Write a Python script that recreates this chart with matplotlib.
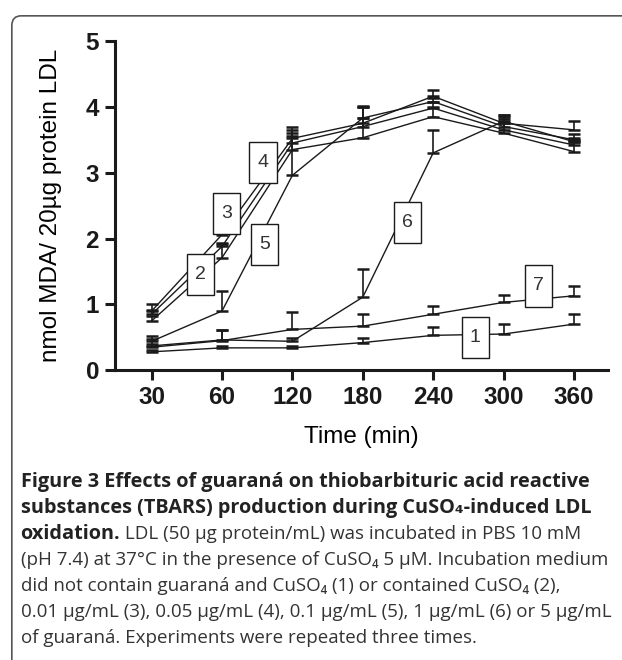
import numpy as np
import matplotlib.pyplot as plt
from matplotlib.patches import FancyBboxPatch
from matplotlib.path import Path

# data (nmol MDA / 20 ug protein LDL)
times = ['30', '60', '120', '180', '240', '300', '360']
s1 = [0.28, 0.34, 0.34, 0.42, 0.53, 0.55, 0.70]
e1 = [0.03, 0.03, 0.03, 0.07, 0.13, 0.15, 0.15]
s2 = [0.75, 1.71, 3.35, 3.53, 3.85, 3.60, 3.32]
e2 = [0.08, 0.20, 0.25, 0.30, 0.15, 0.15, 0.15]
s3 = [0.85, 1.88, 3.45, 3.70, 3.98, 3.65, 3.42]
e3 = [0.07, 0.05, 0.20, 0.30, 0.10, 0.22, 0.08]
s4 = [0.90, 2.06, 3.52, 3.75, 4.16, 3.75, 3.65]
e4 = [0.10, 0.05, 0.18, 0.25, 0.10, 0.10, 0.14]
s5 = [0.44, 0.90, 2.96, 3.83, 4.08, 3.70, 3.50]
e5 = [0.08, 0.31, 0.60, 0.18, 0.05, 0.12, 0.08]
s6 = [0.37, 0.46, 0.44, 1.11, 3.30, 3.78, 3.47]
e6 = [0.10, 0.15, 0.05, 0.42, 0.35, 0.10, 0.05]
s7 = [0.35, 0.45, 0.62, 0.67, 0.85, 1.03, 1.13]
e7 = [0.05, 0.16, 0.27, 0.18, 0.12, 0.12, 0.15]

series = [s1, s2, s3, s4, s5, s6, s7]
errs = [e1, e2, e3, e4, e5, e6, e7]

# label boxes: (label, x position, y value)
labels = ['1', '2', '3', '4', '5', '6', '7']
label_x = [4.60, 0.69, 1.06, 1.58, 1.60, 3.63, 5.50]
label_y = [0.50, 1.45, 2.38, 3.16, 1.91, 2.24, 1.28]


def tallbox(x0, y0, width, height, mutation_size):
    # narrow, tall rectangle round the digit
    padx = 0.42 * mutation_size
    pady = 0.62 * mutation_size
    x0, y0 = x0 - padx, y0 - pady
    x1, y1 = x0 + width + 2 * padx, y0 + height + 2 * pady
    return Path([(x0, y0), (x1, y0), (x1, y1), (x0, y1), (x0, y0)], closed=True)


fig = plt.figure(figsize=(6.22, 6.60), dpi=100)
ax = fig.add_axes([0.185, 0.439, 0.792, 0.499])

x = np.arange(len(times))
for s, e in zip(series, errs):
    ax.errorbar(x, s, yerr=[np.zeros(len(e)), e], color='#1a1a1a', lw=1.0,
                elinewidth=1.2, capsize=4, capthick=1.8)

for lab, lx, ly in zip(labels, label_x, label_y):
    ax.text(lx, ly, lab, ha='center', va='center', fontsize=14,
            family='Liberation Sans', color='#333333', zorder=5,
            bbox=dict(boxstyle=tallbox, fc='white', ec='#1a1a1a', lw=1.0))

ax.set_xlim(-0.52, 6.48)
ax.set_ylim(0, 5)
ax.set_xticks(x)
ax.set_xticklabels(times)
ax.set_yticks(range(6))
for sp in ['top', 'right']:
    ax.spines[sp].set_visible(False)
for sp in ['left', 'bottom']:
    ax.spines[sp].set_linewidth(2.2)
    ax.spines[sp].set_color('#1a1a1a')
ax.tick_params(width=2.2, length=7, color='#1a1a1a', labelsize=17.5, pad=4.5)
for t in ax.get_xticklabels() + ax.get_yticklabels():
    t.set_fontweight('bold')
    t.set_family('Liberation Sans')
    t.set_color('#1a1a1a')
ax.set_ylabel('nmol MDA/ 20µg protein LDL', fontsize=17.5, family='Liberation Sans', labelpad=17)
ax.set_xlabel('Time (min)', fontsize=17.5, family='Liberation Sans', labelpad=12)

# outer rounded frame
frame = FancyBboxPatch((0.019, -0.05), 1.2, 1.026, boxstyle='round,pad=0,rounding_size=0.015',
                       transform=fig.transFigure, fc='none', ec='#555555', lw=1.2)
fig.patches.append(frame)

fam = ['Open Sans', 'DejaVu Sans']
cx = 0.033
fig.text(cx, 1 - 482 / 660, 'Figure 3 Effects of guaraná on thiobarbituric acid reactive',
         fontsize=14.3, fontweight='bold', family=fam, va='center', color='#222222')
fig.text(cx, 1 - 508 / 660, 'substances (TBARS) production during CuSO₄-induced LDL',
         fontsize=14.3, fontweight='bold', family=fam, va='center', color='#222222')
t1 = fig.text(cx, 1 - 534 / 660, 'oxidation.', fontsize=14.3, fontweight='bold',
              family=fam, va='center', color='#222222')
ax.annotate(' LDL (50 µg protein/mL) was incubated in PBS 10 mM', xy=(1, 0.5),
            xycoords=t1, va='center', ha='left', fontsize=13.5, family=fam,
            color='#333333', annotation_clip=False)
rest = ['(pH 7.4) at 37°C in the presence of CuSO₄ 5 µM. Incubation medium',
        'did not contain guaraná and CuSO₄ (1) or contained CuSO₄ (2),',
        '0.01 µg/mL (3), 0.05 µg/mL (4), 0.1 µg/mL (5), 1 µg/mL (6) or 5 µg/mL',
        'of guaraná. Experiments were repeated three times.']
for i, line in enumerate(rest):
    fig.text(cx, 1 - (560 + 26 * i) / 660, line, fontsize=13.5, family=fam,
             va='center', color='#333333')

fig.savefig('out.png', dpi=100)
